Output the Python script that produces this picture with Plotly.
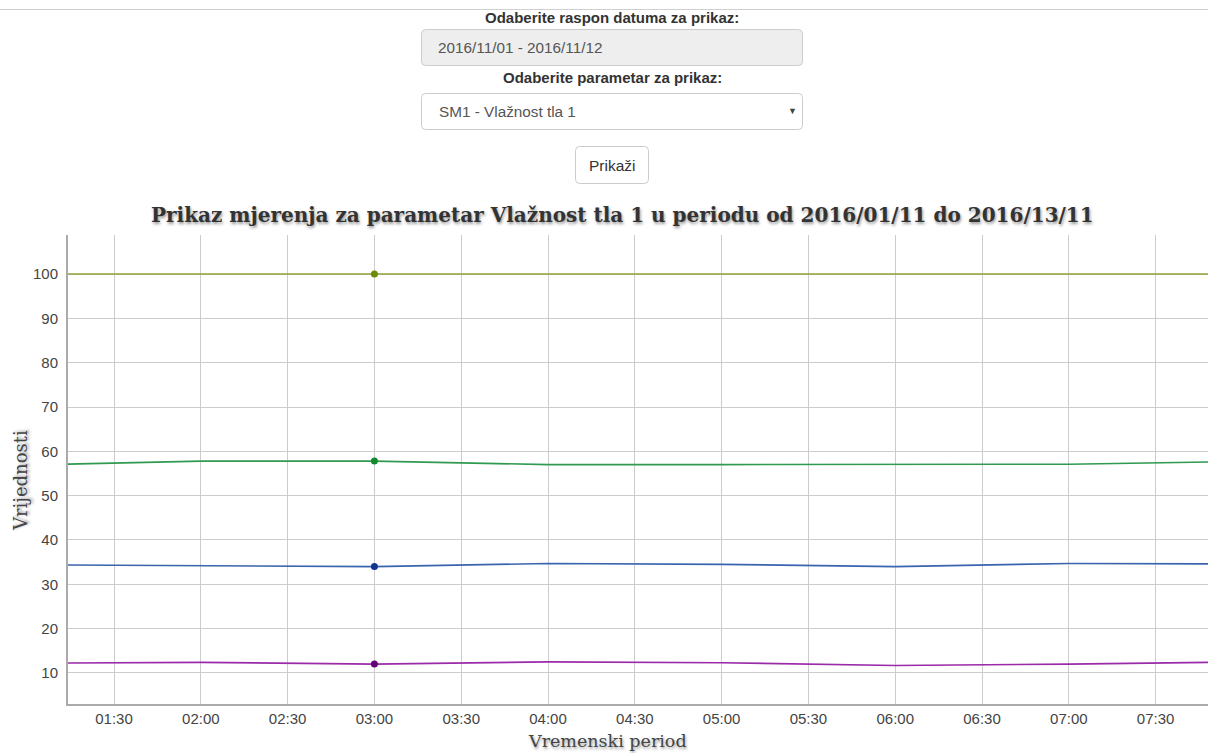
import plotly.graph_objects as go

# ---------------- data ----------------
times = ["2016-11-01 01:00", "2016-11-01 02:00", "2016-11-01 03:00", "2016-11-01 04:00",
         "2016-11-01 05:00", "2016-11-01 06:00", "2016-11-01 07:00", "2016-11-01 08:00"]
olive_vals = [100, 100, 100, 100, 100, 100, 100, 100]
green_vals = [56.9, 57.8, 57.8, 57.0, 57.0, 57.1, 57.1, 57.7]
blue_vals = [34.4, 34.2, 34.0, 34.7, 34.5, 34.0, 34.7, 34.6]
purple_vals = [12.2, 12.4, 12.0, 12.5, 12.3, 11.7, 12.0, 12.5]
hover_index = 2  # 03:00 highlighted point

title_text = "Prikaz mjerenja za parametar Vlažnost tla 1 u periodu od 2016/01/11 do 2016/13/11"
y_title = "Vrijednosti"
x_title = "Vremenski period"
date_label = "Odaberite raspon datuma za prikaz:"
date_value = "2016/11/01 - 2016/11/12"
param_label = "Odaberite parametar za prikaz:"
param_value = "SM1 - Vlažnost tla 1"
button_text = "Prikaži"

# ---------------- geometry ----------------
W, H = 1208, 753
L, R, T, B = 68, 0, 235, 49
PW, PH = W - L - R, H - T - B


def px(x):
    return (x - L) / PW


def py(y):
    return (H - B - y) / PH


def rrect(x0, y0, x1, y1, r=4):
    pts = (f"M {px(x0 + r)},{py(y0)} L {px(x1 - r)},{py(y0)} Q {px(x1)},{py(y0)} {px(x1)},{py(y0 + r)} "
           f"L {px(x1)},{py(y1 - r)} Q {px(x1)},{py(y1)} {px(x1 - r)},{py(y1)} "
           f"L {px(x0 + r)},{py(y1)} Q {px(x0)},{py(y1)} {px(x0)},{py(y1 - r)} "
           f"L {px(x0)},{py(y0 + r)} Q {px(x0)},{py(y0)} {px(x0 + r)},{py(y0)} Z")
    return pts


series = [
    (olive_vals, "#8fa33a", "#6b8a05"),
    (green_vals, "#2f9a50", "#138a30"),
    (blue_vals, "#3a64ad", "#10368f"),
    (purple_vals, "#9a2aa8", "#62007a"),
]

fig = go.Figure()
for vals, lc, mc in series:
    fig.add_trace(go.Scatter(x=times, y=vals, mode="lines",
                             line=dict(color=lc, width=1.6), hoverinfo="skip",
                             showlegend=False))
for vals, lc, mc in series:
    fig.add_trace(go.Scatter(x=[times[hover_index]], y=[vals[hover_index]], mode="markers",
                             marker=dict(color=mc, size=7), hoverinfo="skip",
                             showlegend=False, cliponaxis=False))

shapes = [
    # top separator line
    dict(type="line", xref="paper", yref="paper", x0=px(0), x1=px(W), y0=py(9.5), y1=py(9.5),
         line=dict(color="#cfcfcf", width=1)),
    # date input
    dict(type="path", xref="paper", yref="paper", path=rrect(421.5, 29.5, 802.5, 65.5),
         fillcolor="#eeeeee", line=dict(color="#cccccc", width=1)),
    # select box
    dict(type="path", xref="paper", yref="paper", path=rrect(421.5, 93.5, 802.5, 129.5),
         fillcolor="#ffffff", line=dict(color="#cccccc", width=1)),
    # button
    dict(type="path", xref="paper", yref="paper", path=rrect(575.5, 146.5, 648.5, 183.5),
         fillcolor="#ffffff", line=dict(color="#cccccc", width=1)),
]

sans = "Liberation Sans, Arial, sans-serif"
serif = "DejaVu Serif, Liberation Serif, serif"


def ann(text, x, y, size, color, family=sans, xanchor="center", **kw):
    return dict(text=text, x=px(x), y=py(y), xref="paper", yref="paper",
                xanchor=xanchor, yanchor="middle", showarrow=False,
                font=dict(family=family, size=size, color=color, **kw.pop("fontkw", {})), **kw)


shadow = "1px 2px 3px #999999"
annotations = [
    ann(f"<b>{date_label}</b>", 612, 17, 15, "#333333"),
    ann(date_value, 436, 47.5, 15.3, "#555555", xanchor="left"),
    ann(f"<b>{param_label}</b>", 612, 78, 15, "#333333"),
    ann(param_value, 437, 111.5, 15.3, "#555555", xanchor="left"),
    ann("▼", 792, 111, 9, "#444444"),
    ann(button_text, 612, 165, 15.5, "#333333"),
    ann(f"<b>{title_text}</b>", 622, 215, 20, "#333333", family=serif,
        fontkw=dict(shadow=shadow)),
    ann(y_title, 20, 481, 18, "#444444", family=serif, textangle=-90,
        fontkw=dict(shadow=shadow)),
    ann(x_title, 607, 741, 17.5, "#444444", family=serif,
        fontkw=dict(shadow=shadow)),
]

fig.update_layout(
    width=W, height=H,
    margin=dict(l=L, r=R, t=T, b=B, pad=0),
    paper_bgcolor="white", plot_bgcolor="white",
    shapes=shapes, annotations=annotations,
    showlegend=False,
    font=dict(family=sans, size=15, color="#444444"),
)
fig.update_xaxes(
    type="date",
    range=["2016-11-01 01:14:06", "2016-11-01 07:48:06"],
    tick0="2016-11-01 01:30", dtick=30 * 60 * 1000, tickformat="%H:%M",
    showgrid=True, gridcolor="#cccccc", gridwidth=1,
    showline=True, linecolor="#aaaaaa", linewidth=2,
    ticks="", ticklabelstandoff=0,
    tickfont=dict(family=sans, size=15, color="#444444"),
    zeroline=False, fixedrange=True,
)
fig.update_yaxes(
    range=[3.0, 108.8],
    tick0=0, dtick=10,
    showgrid=True, gridcolor="#cccccc", gridwidth=1,
    showline=True, linecolor="#aaaaaa", linewidth=2,
    ticks="", ticklabelstandoff=5,
    tickfont=dict(family=sans, size=15, color="#444444"),
    zeroline=False, fixedrange=True,
)

fig.write_html("out.html", config={"displayModeBar": False},
               post_script="document.body.style.margin='0';document.body.style.overflow='hidden';")
